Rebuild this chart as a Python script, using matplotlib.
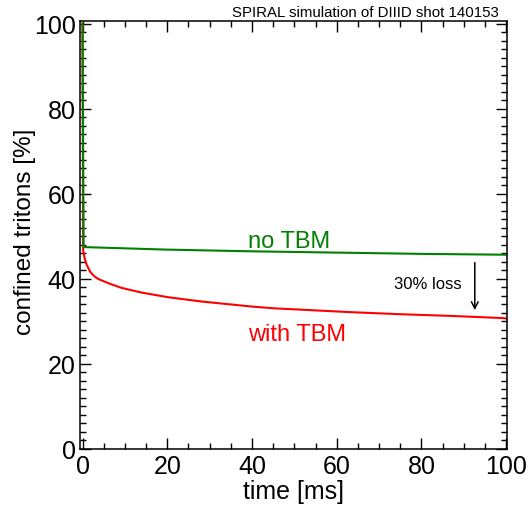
import numpy as np
import matplotlib
matplotlib.use('Agg')
from matplotlib import pyplot as plt
from matplotlib.ticker import MultipleLocator

plt.rcParams['font.family'] = ['Liberation Sans', 'DejaVu Sans']

# no TBM (green)
t_no = [0.0, 0.25, 10, 20, 40, 60, 80, 100]
f_no = [100.0, 47.4, 47.1, 46.8, 46.4, 46.1, 45.8, 45.6]

# with TBM (red)
t_tbm = [0.0, 0.15, 0.3, 0.6, 1.0, 1.8, 2.7, 3.7, 6.1, 9.2, 13.9, 20.2, 28.0,
         35.0, 40.0, 45.0, 51.0, 63.0, 75.0, 87.0, 99.0, 100]
f_tbm = [100.0, 46.7, 45.6, 44.4, 43.2, 41.6, 40.6, 39.9, 38.9, 37.8, 36.7,
         35.6, 34.6, 33.9, 33.4, 33.0, 32.7, 32.1, 31.6, 31.2, 30.7, 30.6]

x_ticks = [0, 20, 40, 60, 80, 100]
y_ticks = [0, 20, 40, 60, 80, 100]

fig = plt.figure(figsize=(5.28, 5.10), dpi=100)
ax = fig.add_axes([0.1515, 0.1186, 0.8087, 0.8383])

ax.plot(t_tbm, f_tbm, color='#ff0000', lw=1.5)
ax.plot(t_no, f_no, color='#008000', lw=1.5)

ax.set_xlim(-0.6, 100.2)
ax.set_ylim(0, 100.6)
ax.set_xticks(x_ticks)
ax.set_yticks(y_ticks)
ax.xaxis.set_minor_locator(MultipleLocator(5))
ax.yaxis.set_minor_locator(MultipleLocator(2))
ax.tick_params(which='both', direction='in', top=True, right=True, width=1)
ax.tick_params(which='major', length=8, labelsize=18)
ax.tick_params(axis='x', which='major', pad=4)
ax.tick_params(axis='y', which='major', pad=3)
ax.tick_params(which='minor', length=4)
for s in ax.spines.values():
    s.set_linewidth(1.1)

ax.set_xlabel('time [ms]', fontsize=18, labelpad=1)
ax.set_ylabel('confined tritons [%]', fontsize=17.5, va='center')
ax.yaxis.set_label_coords(-0.129, 0.51)

ax.text(48.7, 47.5, 'no TBM', color='#008000', fontsize=17, ha='center', va='baseline')
ax.text(50.6, 25.6, 'with TBM', color='#ff0000', fontsize=17, ha='center', va='baseline')
ax.text(89.5, 38.8, '30% loss', fontsize=12, ha='right', va='center')
ax.annotate('', xy=(92.6, 31.9), xytext=(92.6, 44.4),
            arrowprops=dict(arrowstyle='->', color='black', lw=1.1,
                            mutation_scale=12))

fig.text(499 / 528, 1 - 16.7 / 510, 'SPIRAL simulation of DIIID shot 140153',
         fontsize=10.8, ha='right', va='baseline')

fig.savefig('out.png', dpi=100)
